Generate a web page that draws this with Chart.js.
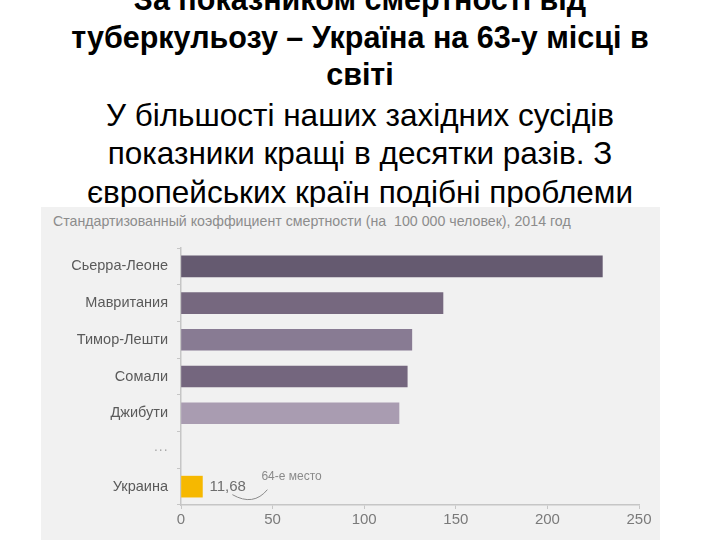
<!DOCTYPE html>
<html>
<head>
<meta charset="utf-8">
<script src="https://cdn.jsdelivr.net/npm/chart.js@4.4.1/dist/chart.umd.min.js"></script>
<style>
  html, body { margin:0; padding:0; background:#fff; }
  #page { position:relative; width:720px; height:540px; overflow:hidden; }
  #heading { position:absolute; left:0; top:-19px; width:720px; text-align:center;
    font-family:"Liberation Sans",Arial,sans-serif;
    font-size:31.5px; line-height:37.5px; color:#000; white-space:nowrap; }
  #heading .b { font-weight:bold; font-size:30.5px; }
  #heading .r { line-height:38.5px; }
  #heading .first { margin-top:2px; }
  #panel { position:absolute; left:41px; top:207px; width:619px; height:333px; background:#f1f1f1; z-index:2; }
  #sub { position:absolute; left:12px; top:6px; font-family:"Liberation Sans",Arial,sans-serif;
    font-size:14.2px; color:#8c8c8c; white-space:nowrap; }
  #wrap { position:absolute; left:0; top:0; width:619px; height:333px; }
</style>
</head>
<body>
<div id="page">
  <div id="heading">
    <div class="b">За показником смертності від</div>
    <div class="b">туберкульозу – Україна на 63-у місці в</div>
    <div class="b">світі</div>
    <div class="r first">У більшості наших західних сусідів</div>
    <div class="r">показники кращі в десятки разів. З</div>
    <div class="r">європейських країн подібні проблеми</div>
  </div>
  <div id="panel">
    <div id="sub">Стандартизованный коэффициент смертности (на&nbsp; 100 000 человек), 2014 год</div>
    <div id="wrap"><canvas id="c" width="619" height="333"></canvas></div>
  </div>
</div>
<script>
const categories = ['Сьерра-Леоне','Мавритания','Тимор-Лешти','Сомали','Джибути','···','Украина'];
const values = [230, 143, 126, 123.5, 119, null, 11.68];
const barColors = ['#655a70','#76687f','#887b93','#74667e','#a99cb1','#a99cb1','#f6b800'];
const xTicks = [0, 50, 100, 150, 200, 250];
const ukraineLabel = '11,68';
const rankNote = '64-е место';

const annot = {
  id:'annot',
  afterDatasetsDraw(chart){
    const ctx = chart.ctx;
    const meta = chart.getDatasetMeta(0);
    const idx = categories.length - 1;
    const bar = meta.data[idx];
    ctx.save();
    ctx.fillStyle = '#6e6e6e';
    ctx.font = '15px "Liberation Sans", Arial, sans-serif';
    ctx.textBaseline = 'middle';
    ctx.textAlign = 'left';
    const tx = bar.x + 7;
    ctx.fillText(ukraineLabel, tx, bar.y);
    ctx.font = '12px "Liberation Sans", Arial, sans-serif';
    ctx.fillStyle = '#8a8a8a';
    ctx.fillText(rankNote, tx + 52, bar.y - 10);
    ctx.strokeStyle = '#8a8a8a';
    ctx.lineWidth = 1;
    ctx.beginPath();
    ctx.moveTo(tx + 23, bar.y + 8);
    ctx.quadraticCurveTo(tx + 44, bar.y + 20, tx + 58, bar.y + 3);
    ctx.stroke();
    ctx.restore();
  }
};

new Chart(document.getElementById('c'), {
  type:'bar',
  data:{ labels:categories, datasets:[{ data:values, backgroundColor:barColors, barThickness:21 }] },
  options:{
    indexAxis:'y', responsive:false, animation:false,
    layout:{ padding:{ top:41, right:21, left:0, bottom:0 } },
    plugins:{ legend:{display:false}, tooltip:{enabled:false} },
    scales:{
      x:{ min:0, max:250, afterBuildTicks(s){ s.ticks = xTicks.map(v=>({value:v})); },
        border:{ color:'#c6c6c6', width:1.5 },
        grid:{ drawOnChartArea:false, color:'#c6c6c6', tickLength:4 },
        ticks:{ color:'#7a7a7a', font:{ size:15, family:'"Liberation Sans", Arial, sans-serif' }, padding:2 },
        afterFit(s){ s.height = 35; } },
      y:{ border:{ color:'#c6c6c6', width:1.5 },
        grid:{ drawOnChartArea:false, color:'#c6c6c6', tickLength:4, offset:true },
        ticks:{ color:(c)=> c.index===5 ? '#aaaaaa' : '#5a5a5a', font:{ size:14.5, family:'"Liberation Sans", Arial, sans-serif' }, padding:9 },
        afterFit(s){ s.width = 140; } }
    }
  },
  plugins:[annot]
});
</script>
</body>
</html>
